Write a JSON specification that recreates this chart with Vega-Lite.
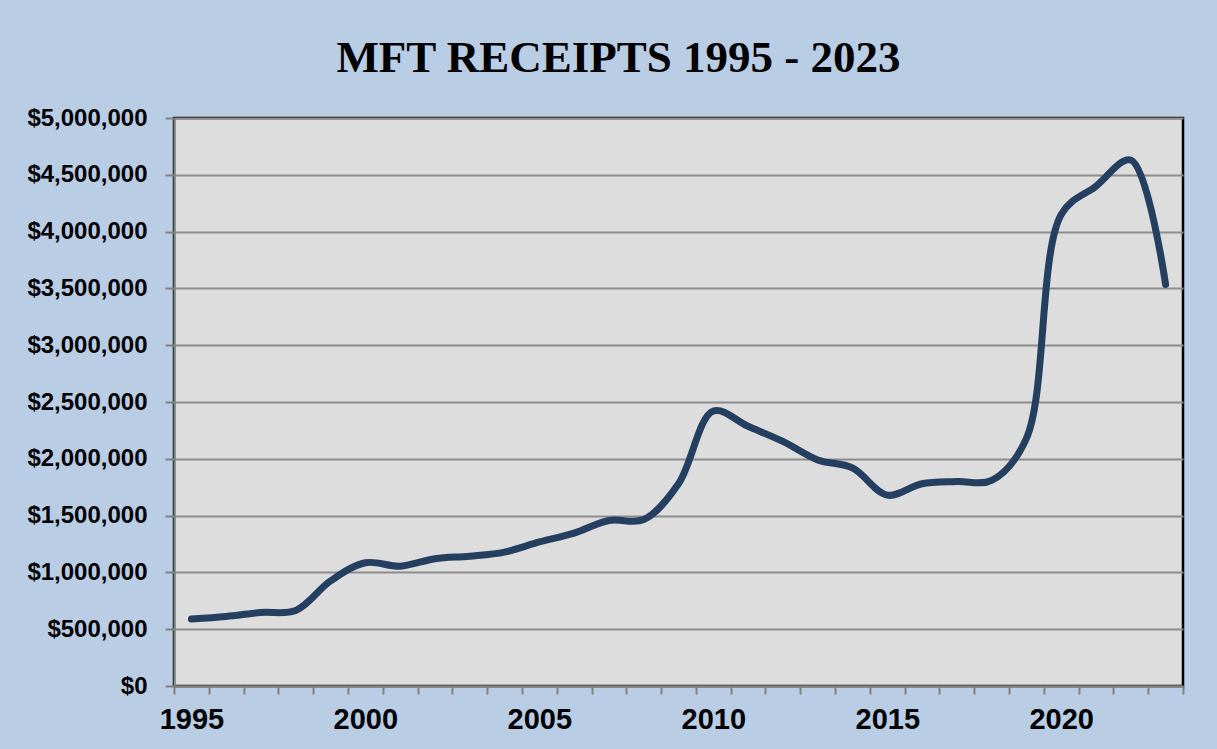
{
  "$schema": "https://vega.github.io/schema/vega-lite/v6.json",
  "autosize": {"type": "none"},
  "width": 1009,
  "height": 568,
  "padding": {"left": 174, "top": 118, "right": 34, "bottom": 63},
  "background": "#B9CDE5",
  "title": {
    "text": "MFT RECEIPTS 1995 - 2023",
    "font": "Liberation Serif",
    "fontWeight": "bold",
    "fontSize": 45,
    "color": "#000000",
    "anchor": "middle",
    "frame": "group",
    "dx": -60,
    "baseline": "alphabetic",
    "offset": -11
  },
  "config": {
    "view": {"fill": "#DDDDDD", "stroke": "#000000", "strokeWidth": 2.5},
    "axis": {
      "labelFont": "Liberation Sans",
      "labelFontWeight": "bold",
      "labelColor": "#000000",
      "domainColor": "#808080",
      "domainWidth": 2,
      "tickColor": "#808080",
      "tickWidth": 2,
      "gridColor": "#8C8C8C",
      "gridWidth": 2,
      "gridOpacity": 1,
      "title": null
    }
  },
  "data": {
    "values": [
      {"year": 1995, "receipts": 590000},
      {"year": 1996, "receipts": 612000},
      {"year": 1997, "receipts": 647000},
      {"year": 1998, "receipts": 665000},
      {"year": 1999, "receipts": 925000},
      {"year": 2000, "receipts": 1085000},
      {"year": 2001, "receipts": 1055000},
      {"year": 2002, "receipts": 1120000},
      {"year": 2003, "receipts": 1143000},
      {"year": 2004, "receipts": 1179000},
      {"year": 2005, "receipts": 1268000},
      {"year": 2006, "receipts": 1345000},
      {"year": 2007, "receipts": 1457000},
      {"year": 2008, "receipts": 1465000},
      {"year": 2009, "receipts": 1780000},
      {"year": 2010, "receipts": 2420000},
      {"year": 2011, "receipts": 2286000},
      {"year": 2012, "receipts": 2153000},
      {"year": 2013, "receipts": 1990000},
      {"year": 2014, "receipts": 1920000},
      {"year": 2015, "receipts": 1680000},
      {"year": 2016, "receipts": 1780000},
      {"year": 2017, "receipts": 1800000},
      {"year": 2018, "receipts": 1810000},
      {"year": 2019, "receipts": 2180000},
      {"year": 2020, "receipts": 4150000},
      {"year": 2021, "receipts": 4400000},
      {"year": 2022, "receipts": 4630000},
      {"year": 2023, "receipts": 3535000}
    ]
  },
  "mark": {
    "type": "line",
    "interpolate": "catmull-rom",
    "color": "#243F60",
    "strokeWidth": 7,
    "strokeCap": "round",
    "strokeJoin": "round"
  },
  "encoding": {
    "x": {
      "field": "year",
      "type": "ordinal",
      "bandPosition": 0.5,
      "scale": {"type": "band", "paddingInner": 0, "paddingOuter": 0},
      "axis": {
        "labelAngle": 0,
        "labelFontSize": 29,
        "labelPadding": 11,
        "tickSize": 8,
        "tickBand": "extent",
        "grid": false,
        "labelExpr": "datum.value % 5 === 0 ? datum.label : ''"
      }
    },
    "y": {
      "field": "receipts",
      "type": "quantitative",
      "scale": {"domain": [0, 5000000], "nice": false, "zero": true},
      "axis": {
        "values": [0, 500000, 1000000, 1500000, 2000000, 2500000, 3000000, 3500000, 4000000, 4500000, 5000000],
        "format": "$,.0f",
        "labelFontSize": 24,
        "labelPadding": 18,
        "tickSize": 9,
        "grid": true
      }
    }
  }
}
